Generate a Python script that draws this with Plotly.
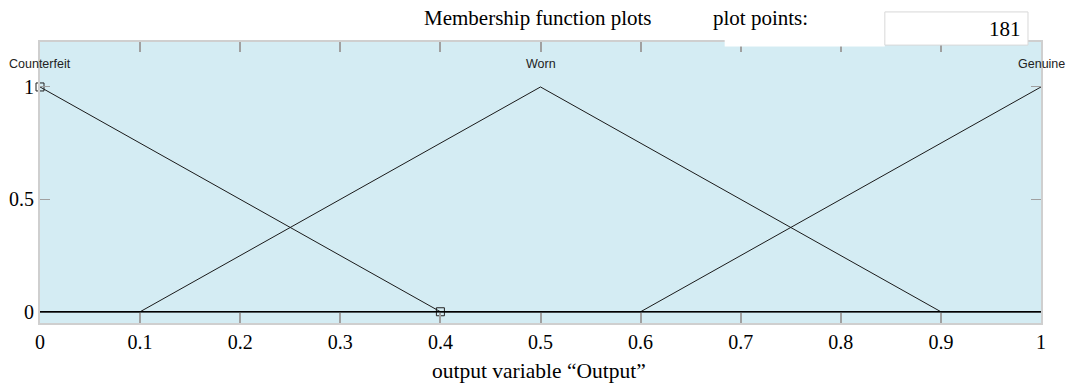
import plotly.graph_objects as go

# ---- data ----
mf_names = ["Counterfeit", "Worn", "Genuine"]
counterfeit_x = [0, 0.4, 1]
counterfeit_y = [1, 0, 0]
worn_x = [0, 0.1, 0.5, 0.9, 1]
worn_y = [0, 0, 1, 0, 0]
genuine_x = [0, 0.6, 1]
genuine_y = [0, 0, 1]
label_x = [0, 0.5, 1]
label_y = [1.1, 1.1, 1.1]
selected_x = [0, 0.4]
selected_y = [1, 0]
x_ticks = [0, 0.1, 0.2, 0.3, 0.4, 0.5, 0.6, 0.7, 0.8, 0.9, 1]
x_tick_labels = ["0", "0.1", "0.2", "0.3", "0.4", "0.5", "0.6", "0.7", "0.8", "0.9", "1"]
y_ticks = [0, 0.5, 1]
y_tick_labels = ["0", "0.5", "1"]
plot_points = "181"

serif = "Liberation Serif, Times New Roman, serif"
sans = "Liberation Sans, Arial, sans-serif"
FS = 20

fig = go.Figure()
for xs, ys in [(counterfeit_x, counterfeit_y), (worn_x, worn_y), (genuine_x, genuine_y)]:
    fig.add_trace(go.Scatter(x=xs, y=ys, mode="lines",
                             line=dict(color="#1a1a1a", width=1), showlegend=False,
                             hoverinfo="skip"))
fig.add_trace(go.Scatter(x=selected_x, y=selected_y, mode="markers",
                         marker=dict(symbol="square-open", size=8, color="#222",
                                     line=dict(width=1)), showlegend=False,
                         cliponaxis=False))
for name, lx, ly in zip(mf_names, label_x, label_y):
    fig.add_annotation(x=lx, y=ly, xref="x", yref="y", text=name, showarrow=False,
                       font=dict(family=sans, size=12.5, color="#222"),
                       xanchor="center", yanchor="middle")

fig.update_layout(
    width=1069, height=384,
    margin=dict(l=40, r=28, t=42, b=61),
    paper_bgcolor="white",
    plot_bgcolor="#d4ecf3",
    font=dict(family=serif, size=FS, color="black"),
    xaxis=dict(range=[0, 1], tickvals=x_ticks, ticktext=x_tick_labels,
               ticks="inside", ticklen=10, tickcolor="#a0a0a0", tickwidth=2,
               mirror="ticks", showline=True, linecolor="#cfcfcf", linewidth=2,
               showgrid=False, zeroline=False, automargin=False,
               tickfont=dict(family=serif, size=FS)),
    yaxis=dict(range=[-0.05, 1.2], tickvals=y_ticks, ticktext=y_tick_labels,
               ticks="inside", ticklen=10, tickcolor="#a0a0a0", tickwidth=1,
               mirror="ticks", showline=True, linecolor="#cfcfcf", linewidth=2,
               showgrid=False, zeroline=False, automargin=False,
               tickfont=dict(family=serif, size=FS)),
)

# zero baseline drawn above the axis ticks
fig.add_shape(type="line", xref="x", yref="y", x0=0, x1=1, y0=0, y1=0,
              line=dict(color="black", width=1.5), layer="above")

# white strip covering top border and plot-points box
fig.add_shape(type="rect", xref="paper", yref="paper", x0=0.684, x1=0.844, y0=0.984, y1=1.01,
              fillcolor="white", line=dict(width=0), layer="above")
fig.add_shape(type="rect", xref="paper", yref="paper", x0=0.844, x1=0.987, y0=0.989, y1=1.107,
              fillcolor="white", line=dict(color="#d8d8d8", width=1), layer="above")
fig.add_annotation(xref="paper", yref="paper", x=0.497, y=1.085, text="Membership function plots",
                   showarrow=False, font=dict(family=serif, size=21), yanchor="middle")
fig.add_annotation(xref="paper", yref="paper", x=0.769, y=1.085, text="plot points:",
                   showarrow=False, font=dict(family=serif, size=21), yanchor="middle")
fig.add_annotation(xref="paper", yref="paper", x=0.982, y=1.046, text=plot_points,
                   showarrow=False, font=dict(family=serif, size=21), xanchor="right",
                   yanchor="middle")
fig.add_annotation(xref="paper", yref="paper", x=0.499, y=-0.171,
                   text="output variable \u201cOutput\u201d",
                   showarrow=False, font=dict(family=serif, size=21.5), yanchor="middle")

fig.write_html("out.html", config={"displayModeBar": False},
               post_script="document.body.style.margin='0';")
